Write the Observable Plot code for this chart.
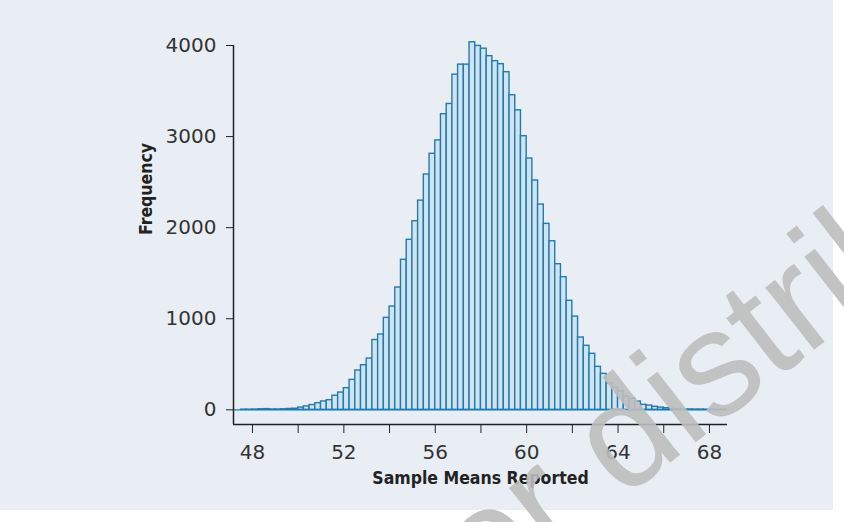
<!DOCTYPE html>
<html><head><meta charset="utf-8">
<script src="https://cdn.jsdelivr.net/npm/d3@7"></script>
<script src="https://cdn.jsdelivr.net/npm/@observablehq/plot@0.6"></script>
<style>
body{margin:0;background:#fff;}
#wrap{position:relative;width:844px;height:522px;overflow:hidden;background:#fff;}
#chart{position:absolute;left:0;top:0;width:833px;height:510px;background:#e9eef5;overflow:hidden;}
#wm{position:absolute;left:0;top:0;pointer-events:none;}
</style></head><body>
<div id="wrap"><div id="chart"></div>
<svg id="wm" width="844" height="522"><text x="-175" y="0" transform="translate(622,500) rotate(-38)" font-family="Liberation Sans, Arial, sans-serif" font-size="150" fill="#bdbdbd" fill-opacity="0.9">or distribute</text></svg>
</div>
<script>
// Bin starts (width 0.25) of sample means
const binStarts = [47.5,47.75,48,48.25,48.5,48.75,49,49.25,49.5,49.75,
50,50.25,50.5,50.75,51,51.25,51.5,51.75,52,52.25,52.5,52.75,
53,53.25,53.5,53.75,54,54.25,54.5,54.75,55,55.25,55.5,55.75,
56,56.25,56.5,56.75,57,57.25,57.5,57.75,58,58.25,58.5,58.75,
59,59.25,59.5,59.75,60,60.25,60.5,60.75,61,61.25,61.5,61.75,
62,62.25,62.5,62.75,63,63.25,63.5,63.75,64,64.25,64.5,64.75,
65,65.25,65.5,65.75,66,66.25,66.5,66.75,67,67.25,67.5,67.75,68,68.25,68.5];
const binWidth = 0.25;
const counts = [2,2,3,6,8,4,4,6,10,12,
25,38,53,73,92,106,155,190,238,329,432,490,
563,767,827,1010,1134,1343,1647,1867,2071,2297,2584,2811,
2958,3246,3358,3680,3790,3790,4035,3995,3965,3883,3828,3795,
3707,3454,3288,3004,2759,2518,2254,2042,1851,1599,1456,1197,
1024,794,703,615,472,395,292,241,204,146,121,91,
55,47,33,25,18,10,6,5,4,3,3,2,2,1,1];
const xTicks = [48,50,52,54,56,58,60,62,64,66,68];
const yTicks = [0,1000,2000,3000,4000];
const xLabel = "Sample Means Reported";
const yLabel = "Frequency";

const xDomain = [47.17, 68.79];
const yDomain = [-161, 4000];
const data = binStarts.map((s, i) => ({x1: s, x2: s + binWidth, y: counts[i]}));

const tickFont = "DejaVu Sans, Verdana, sans-serif";
const titleFont = "'Liberation Sans Narrow','DejaVu Sans Condensed','Roboto Condensed',sans-serif";

const chart = Plot.plot({
  width: 833,
  height: 510,
  marginLeft: 233,
  marginRight: 106,
  marginTop: 45,
  marginBottom: 86,
  style: {background: "transparent", color: "#222", overflow: "visible"},
  x: {domain: xDomain},
  y: {domain: yDomain},
  marks: [
    Plot.rectY(data, {x1: "x1", x2: "x2", y1: 0, y2: "y", fill: "#d3e3ee", stroke: "#1b7db3", strokeWidth: 1.4, inset: 0}),
    Plot.ruleY([0], {stroke: "#1b7db3", strokeWidth: 1.4}),
    Plot.ruleX([xDomain[0]], {y1: yDomain[0], y2: yDomain[1], stroke: "#222", strokeWidth: 1.5}),
    Plot.ruleY([yDomain[0]], {x1: xDomain[0], x2: xDomain[1], stroke: "#222", strokeWidth: 1.5}),
    Plot.axisX(xTicks, {anchor: "bottom", tickSize: 9, tickPadding: 11, fontSize: 20, fontFamily: tickFont, fill: "#333", label: null,
      tickFormat: d => d % 4 === 0 ? String(d) : ""}),
    Plot.axisY(yTicks, {anchor: "left", tickSize: 7, tickPadding: 10, fontSize: 20, fontFamily: tickFont, fill: "#333", label: null,
      tickFormat: d => String(d)}),
    Plot.text([xLabel], {frameAnchor: "bottom", dy: 59, text: d => d, fontSize: 17.5, fontWeight: "bold", fontFamily: titleFont, fill: "#222"}),
    Plot.text([yLabel], {frameAnchor: "left", dx: -87, rotate: -90, text: d => d, fontSize: 17.5, fontWeight: "bold", fontFamily: titleFont, fill: "#222"})
  ]
});
document.getElementById("chart").appendChild(chart);
</script>
</body></html>
